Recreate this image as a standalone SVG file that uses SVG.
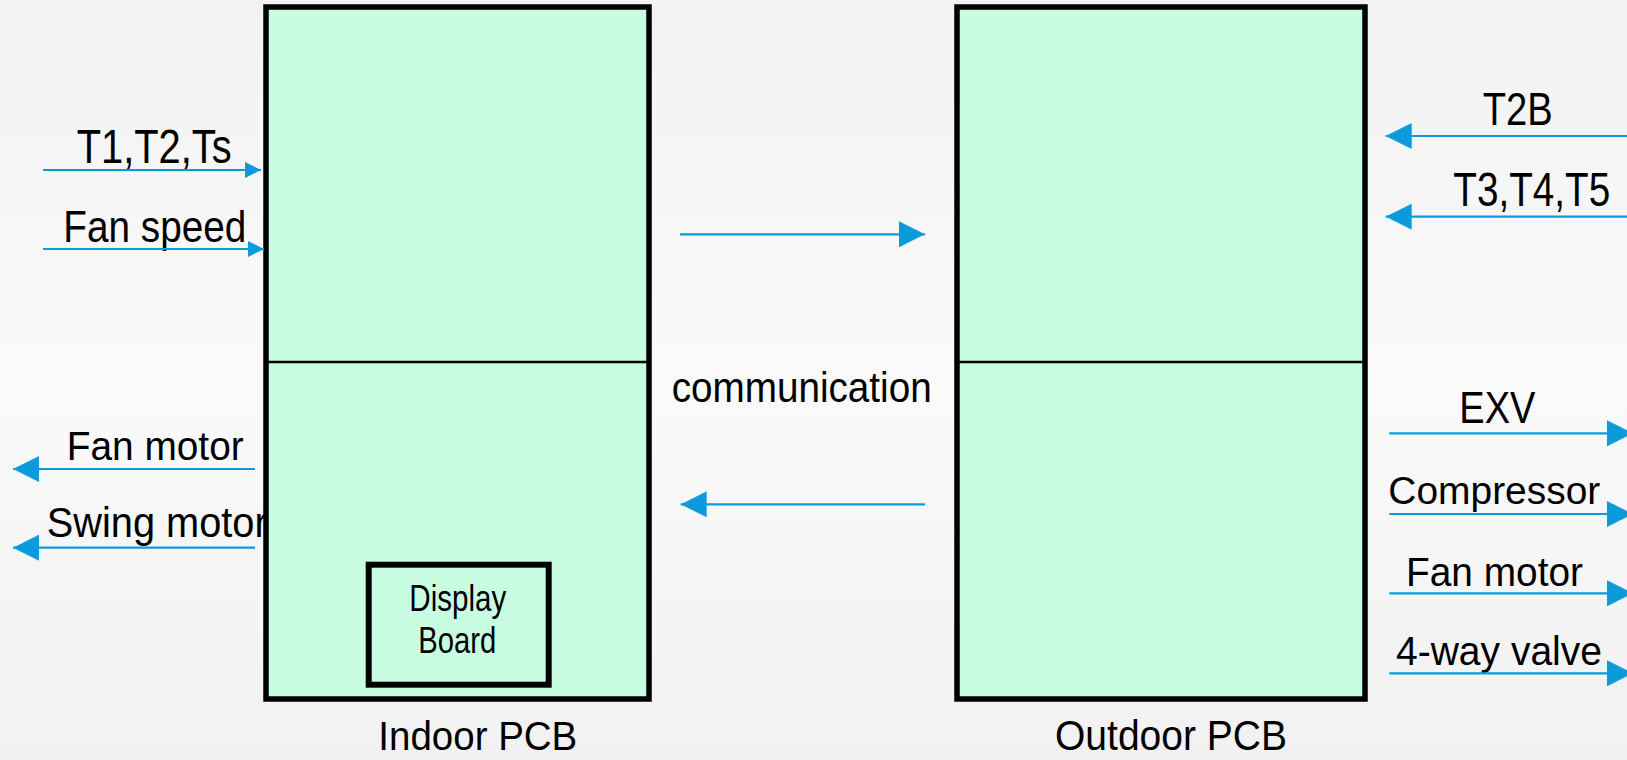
<svg xmlns="http://www.w3.org/2000/svg" width="1627" height="760" viewBox="0 0 1627 760">
<style>
.box{fill:#c8fde1;stroke:#000;stroke-width:5.5}
.div{stroke:#000;stroke-width:2.5}
.lbl{font-family:"Liberation Sans",Arial,sans-serif;fill:#000}
.arr{stroke:#0b9bdc;stroke-width:2.2;fill:none}
</style>
<defs>
<linearGradient id="bg" x1="0" y1="0" x2="0" y2="1">
<stop offset="0" stop-color="#f2f2f2"/>
<stop offset="0.5" stop-color="#fafafa"/>
<stop offset="1" stop-color="#f1f1f1"/>
</linearGradient>
<marker id="big" markerUnits="userSpaceOnUse" markerWidth="26" markerHeight="26" refX="26" refY="13" orient="auto">
<path d="M0,0 L26,13 L0,26 Z" fill="#0b9bdc"/>
</marker>
<marker id="small" markerUnits="userSpaceOnUse" markerWidth="16" markerHeight="16" refX="16" refY="8" orient="auto">
<path d="M0,0 L16,8 L0,16 Z" fill="#0b9bdc"/>
</marker>
</defs>
<rect x="0" y="0" width="1627" height="760" fill="url(#bg)"/>

<g id="labels-left">
<text class="lbl" x="76.7" y="162.7" font-size="48" textLength="155" lengthAdjust="spacingAndGlyphs">T1,T2,Ts</text>
<text class="lbl" x="63.3" y="241.7" font-size="44" textLength="183" lengthAdjust="spacingAndGlyphs">Fan speed</text>
<text class="lbl" x="66.7" y="460" font-size="40" textLength="177" lengthAdjust="spacingAndGlyphs">Fan motor</text>
<text class="lbl" x="46.7" y="537.3" font-size="43" textLength="221" lengthAdjust="spacingAndGlyphs">Swing motor</text>
</g>

<g id="indoor-pcb">
<rect class="box" x="266" y="7" width="383" height="692"/>
<line class="div" x1="266" y1="362" x2="649" y2="362"/>
<text class="lbl" x="378.3" y="750" font-size="41" textLength="199" lengthAdjust="spacingAndGlyphs">Indoor PCB</text>
</g>

<g id="display-board">
<rect x="368.7" y="564.7" width="180" height="120" fill="none" stroke="#000" stroke-width="6"/>
<text class="lbl" x="409.3" y="610.7" font-size="36" textLength="97" lengthAdjust="spacingAndGlyphs">Display</text>
<text class="lbl" x="418.3" y="653" font-size="36" textLength="78" lengthAdjust="spacingAndGlyphs">Board</text>
</g>

<g id="outdoor-pcb">
<rect class="box" x="957" y="7" width="408" height="692"/>
<line class="div" x1="957" y1="362" x2="1365" y2="362"/>
<text class="lbl" x="1055" y="750" font-size="43" textLength="232" lengthAdjust="spacingAndGlyphs">Outdoor PCB</text>
</g>

<g id="communication">
<text class="lbl" x="671.7" y="401.7" font-size="42" textLength="260" lengthAdjust="spacingAndGlyphs">communication</text>
</g>

<g id="labels-right">
<text class="lbl" x="1482.7" y="125" font-size="46" textLength="70" lengthAdjust="spacingAndGlyphs">T2B</text>
<text class="lbl" x="0" y="0" font-size="48" transform="translate(1453.3,206) scale(0.806,1)">T3,T4,T5</text>
<text class="lbl" x="1459.3" y="423.3" font-size="44" textLength="76" lengthAdjust="spacingAndGlyphs">EXV</text>
<text class="lbl" x="1388.3" y="504" font-size="38" textLength="212" lengthAdjust="spacingAndGlyphs">Compressor</text>
<text class="lbl" x="1406" y="586" font-size="41" textLength="177" lengthAdjust="spacingAndGlyphs">Fan motor</text>
<text class="lbl" x="1396" y="665" font-size="40" textLength="206" lengthAdjust="spacingAndGlyphs">4-way valve</text>
</g>

<g id="connectors">
<line class="arr" x1="43" y1="170" x2="261" y2="170" marker-end="url(#small)"/>
<line class="arr" x1="43" y1="249" x2="264" y2="249" marker-end="url(#small)"/>
<line class="arr" x1="255" y1="469" x2="13" y2="469" marker-end="url(#big)"/>
<line class="arr" x1="255" y1="547.7" x2="13" y2="547.7" marker-end="url(#big)"/>
<line class="arr" x1="680" y1="234.3" x2="925" y2="234.3" marker-end="url(#big)"/>
<line class="arr" x1="925" y1="504.3" x2="680.7" y2="504.3" marker-end="url(#big)"/>
<line class="arr" x1="1640" y1="136" x2="1385.7" y2="136" marker-end="url(#big)"/>
<line class="arr" x1="1640" y1="216.7" x2="1385.7" y2="216.7" marker-end="url(#big)"/>
<line class="arr" x1="1389.3" y1="433.3" x2="1633" y2="433.3" marker-end="url(#big)"/>
<line class="arr" x1="1389.3" y1="514" x2="1633" y2="514" marker-end="url(#big)"/>
<line class="arr" x1="1389.3" y1="593.3" x2="1633" y2="593.3" marker-end="url(#big)"/>
<line class="arr" x1="1389.3" y1="673.3" x2="1633" y2="673.3" marker-end="url(#big)"/>
</g>
</svg>
